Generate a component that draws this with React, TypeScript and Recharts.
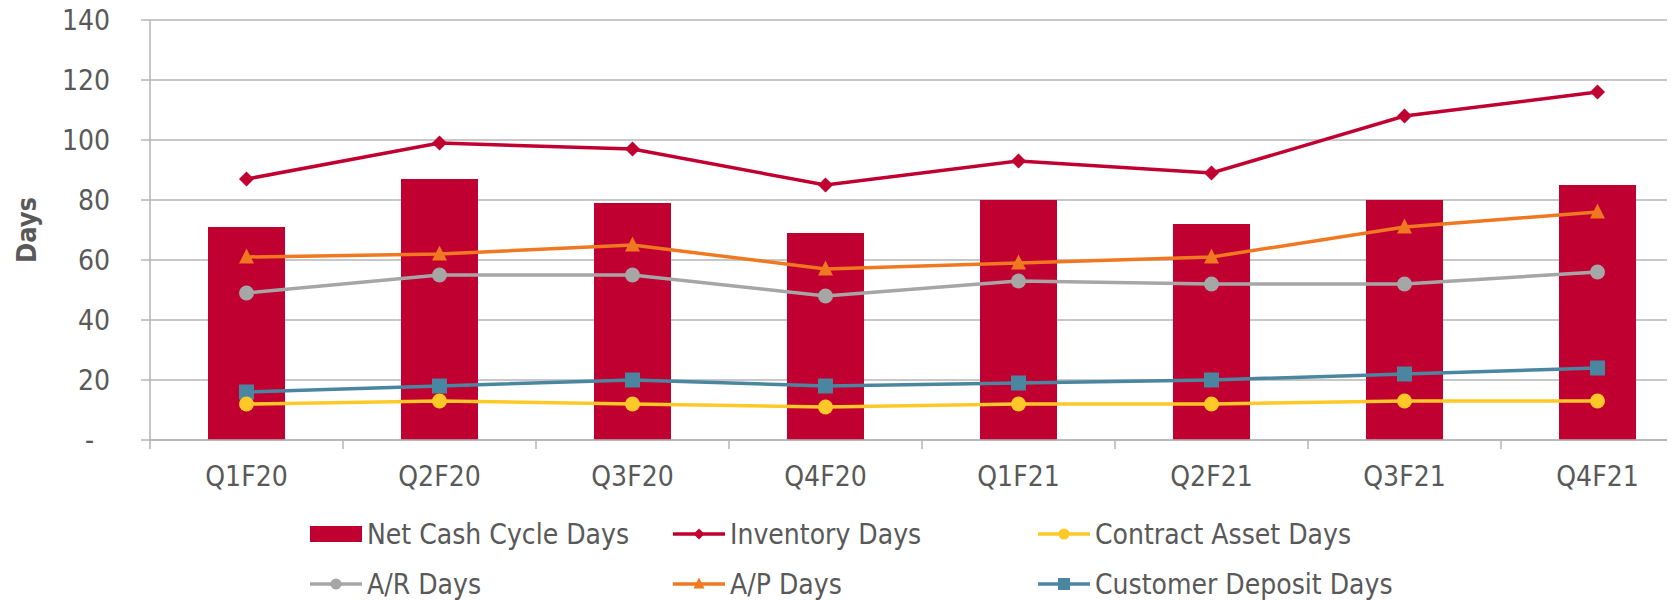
import React from "react"
import { Bar, ComposedChart, Line, XAxis, YAxis, CartesianGrid } from "recharts"

const categories = ["Q1F20", "Q2F20", "Q3F20", "Q4F20", "Q1F21", "Q2F21", "Q3F21", "Q4F21"]
const netCashCycleDays = [71, 87, 79, 69, 80, 72, 80, 85]
const inventoryDays = [87, 99, 97, 85, 93, 89, 108, 116]
const contractAssetDays = [12, 13, 12, 11, 12, 12, 13, 13]
const arDays = [49, 55, 55, 48, 53, 52, 52, 56]
const apDays = [61, 62, 65, 57, 59, 61, 71, 76]
const customerDepositDays = [16, 18, 20, 18, 19, 20, 22, 24]
const yTicks = [0, 20, 40, 60, 80, 100, 120, 140]

const data = categories.map((q, i) => ({
  q,
  netCash: netCashCycleDays[i],
  inventory: inventoryDays[i],
  contract: contractAssetDays[i],
  ar: arDays[i],
  ap: apDays[i],
  deposit: customerDepositDays[i],
}))

const FONT = '"DejaVu Sans Condensed", "DejaVu Sans", sans-serif'
const TEXT = "#595959"
const GRID = "#b5b5b5"
const RED = "#c00030"
const YELLOW = "#ffc829"
const GRAY = "#a6a6a6"
const ORANGE = "#f07820"
const TEAL = "#4a86a0"

const CHART_W = 1686
const CHART_H = 510
const Y_AXIS_W = 142
const TOP = 12
const PLOT_H = 420
const BAND = (CHART_W - Y_AXIS_W) / categories.length
const AXIS_Y = TOP + PLOT_H
const LINE_W = 3.5

type Shape = "diamond" | "circle" | "triangle" | "square"

function marker(shape: Shape, cx: number, cy: number, s: number, fill: string, key?: string | number) {
  const h = s / 2
  if (shape === "circle") return <circle key={key} cx={cx} cy={cy} r={h} fill={fill} />
  if (shape === "square") return <rect key={key} x={cx - h} y={cy - h} width={s} height={s} fill={fill} />
  if (shape === "triangle")
    return <polygon key={key} points={`${cx},${cy - h - 1} ${cx + h},${cy + h - 1} ${cx - h},${cy + h - 1}`} fill={fill} />
  return <polygon key={key} points={`${cx},${cy - h} ${cx + h},${cy} ${cx},${cy + h} ${cx - h},${cy}`} fill={fill} />
}

const dotOf = (shape: Shape, fill: string, s: number) => (p: any) =>
  marker(shape, p.cx, p.cy, s, fill, p.index)

function XTick(props: any) {
  const { x, payload } = props
  return (
    <g>
      <line x1={x - BAND / 2} x2={x - BAND / 2} y1={AXIS_Y} y2={AXIS_Y + 9} stroke={GRID} strokeWidth={1.5} />
      <text x={x} y={AXIS_Y + 36} textAnchor="middle" dominantBaseline="central" fill={TEXT} fontSize={28} fontFamily={FONT}>
        {payload.value}
      </text>
    </g>
  )
}

const legendItems: { label: string; color: string; kind: "bar" | Shape; s: number }[] = [
  { label: "Net Cash Cycle Days", color: RED, kind: "bar", s: 0 },
  { label: "Inventory Days", color: RED, kind: "diamond", s: 11 },
  { label: "Contract Asset Days", color: YELLOW, kind: "circle", s: 11 },
  { label: "A/R Days", color: GRAY, kind: "circle", s: 11 },
  { label: "A/P Days", color: ORANGE, kind: "triangle", s: 11 },
  { label: "Customer Deposit Days", color: TEAL, kind: "square", s: 12 },
]

const legendCols = [302, 665, 1030]
const legendRows = [526, 576]

function LegendIcon({ item }: { item: (typeof legendItems)[number] }) {
  return (
    <svg width={52} height={20} style={{ display: "block" }}>
      {item.kind === "bar" ? (
        <rect x={0} y={2} width={52} height={16} fill={item.color} />
      ) : (
        <>
          <line x1={0} x2={52} y1={10} y2={10} stroke={item.color} strokeWidth={LINE_W} />
          {marker(item.kind, 26, 10, item.s, item.color)}
        </>
      )}
    </svg>
  )
}

export default function App() {
  return (
    <div style={{ position: "relative", width: 1667, height: 592, overflow: "hidden", fontFamily: FONT }}>
      <ComposedChart width={CHART_W} height={CHART_H} data={data} margin={{ top: TOP, right: 0, left: 0, bottom: 0 }}>
        <CartesianGrid vertical={false} stroke={GRID} strokeWidth={1.5} />
        <XAxis
          dataKey="q"
          interval={0}
          height={CHART_H - TOP - PLOT_H}
          axisLine={{ stroke: GRID, strokeWidth: 1.5 }}
          tickLine={false}
          tick={<XTick />}
        />
        <YAxis
          width={Y_AXIS_W}
          domain={[0, 140]}
          ticks={yTicks}
          interval={0}
          axisLine={{ stroke: GRID, strokeWidth: 1.5 }}
          tickLine={{ stroke: GRID, strokeWidth: 1.5 }}
          tickSize={9}
          tickMargin={31}
          tick={{ fill: TEXT, fontSize: 28, fontFamily: FONT }}
          tickFormatter={(v: number) => (v === 0 ? "-\u00a0\u00a0" : `${v}`)}
          label={{
            value: "Days",
            angle: -90,
            position: "insideLeft",
            offset: 18,
            style: { textAnchor: "middle", fill: TEXT, fontSize: 27, fontWeight: "bold", fontFamily: FONT },
          }}
        />
        <Bar dataKey="netCash" fill={RED} barSize={77} isAnimationActive={false} />
        <Line dataKey="inventory" stroke={RED} strokeWidth={LINE_W} dot={dotOf("diamond", RED, 15)} activeDot={false} isAnimationActive={false} />
        <Line dataKey="ap" stroke={ORANGE} strokeWidth={LINE_W} dot={dotOf("triangle", ORANGE, 15)} activeDot={false} isAnimationActive={false} />
        <Line dataKey="ar" stroke={GRAY} strokeWidth={LINE_W} dot={dotOf("circle", GRAY, 15)} activeDot={false} isAnimationActive={false} />
        <Line dataKey="deposit" stroke={TEAL} strokeWidth={LINE_W} dot={dotOf("square", TEAL, 15)} activeDot={false} isAnimationActive={false} />
        <Line dataKey="contract" stroke={YELLOW} strokeWidth={LINE_W} dot={dotOf("circle", YELLOW, 15)} activeDot={false} isAnimationActive={false} />
      </ComposedChart>
      {legendItems.map((item, i) => (
        <div
          key={item.label}
          style={{
            position: "absolute",
            left: legendCols[i % 3],
            top: legendRows[Math.floor(i / 3)] - 20,
            height: 40,
            display: "flex",
            alignItems: "center",
            gap: 5,
            color: TEXT,
            fontSize: 28,
            whiteSpace: "nowrap",
          }}
        >
          <LegendIcon item={item} />
          <span>{item.label}</span>
        </div>
      ))}
    </div>
  )
}
